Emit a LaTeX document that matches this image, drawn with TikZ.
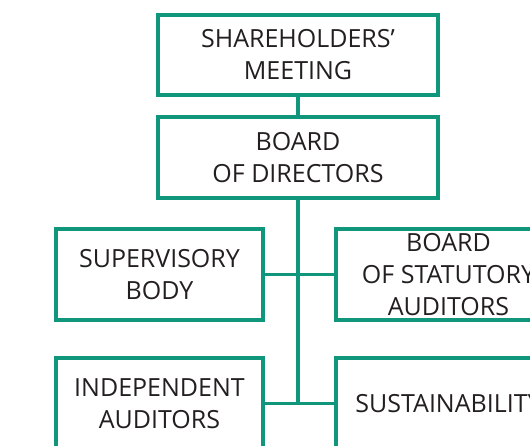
\documentclass[tikz,border=0pt]{standalone}
\usepackage{fontspec}
\setmainfont{Open Sans}
\definecolor{boxgreen}{RGB}{16,150,122}
\definecolor{txt}{RGB}{35,31,32}
\tikzset{
  orgbox/.style={draw=boxgreen, line width=3.2pt, fill=white, align=center,
    inner sep=0pt, text=txt, font=\fontsize{25}{32}\selectfont},
  link/.style={draw=boxgreen, line width=3.2pt}
}
\begin{document}
\begin{tikzpicture}[x=1pt,y=1pt]
\useasboundingbox (0,0) rectangle (530,-445);
\clip (0,0) rectangle (530,-445);
\node[orgbox, minimum width=280, minimum height=80] (top) at (298,-55) {SHAREHOLDERS’\\MEETING};
\node[orgbox, minimum width=280, minimum height=81] (board) at (298,-157.5) {BOARD\\OF DIRECTORS};
\node[orgbox, minimum width=207, minimum height=91] (sup) at (159.5,-274.5) {SUPERVISORY\\BODY};
\node[orgbox, minimum width=225, minimum height=91] (stat) at (448.5,-274.5) {BOARD\\OF STATUTORY\\AUDITORS};
\node[orgbox, minimum width=207, minimum height=91] (ind) at (159.5,-403.5) {INDEPENDENT\\AUDITORS};
\node[orgbox, minimum width=225, minimum height=91] (sust) at (448.5,-403.5) {SUSTAINABILITY};
\draw[link] (top) -- (board);
\draw[link] (board.south) -- (board.south |- ind.east);
\draw[link] (sup.east) -- (stat.west);
\draw[link] (ind.east) -- (sust.west);
\end{tikzpicture}
\end{document}
